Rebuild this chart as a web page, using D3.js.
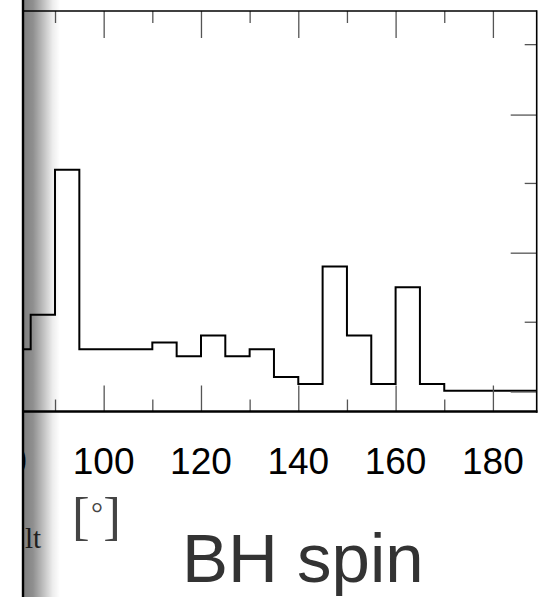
<!DOCTYPE html>
<html><head><meta charset="utf-8">
<script src="https://cdn.jsdelivr.net/npm/d3@7"></script>
<style>html,body{margin:0;padding:0;background:#fff}svg{display:block}</style>
</head><body>
<svg id="c" width="557" height="597"></svg>
<script>
// ---- data ----
const binEdges = [80,85,90,95,100,105,110,115,120,125,130,135,140,145,150,155,160,165,170,175,180,185,190];
const counts   = [9,14,35,9,9,9,10,8,11,8,9,5,4,21,11,4,18,4,3,3,3,3];
const xMajorTicks = [80,100,120,140,160,180];
const xMinorTicks = [90,110,130,150,170];
const xTickLabels = ["80","100","120","140","160","180"];
const yMajorTicks = [2.9,23,43];
const yMinorTicks = [13,33.1,53.2];
const unitLabel = ["[","°","]"];
const sideText = "lt";
const titleText = "BH spin";

// ---- layout ----
const W = 557, H = 597;
const svg = d3.select("#c");
const pTop = 11, pBottom = 411.5, pRight = 536.7;
const x = d3.scaleLinear().domain([70,189]).range([-42.3, pRight]);
const y = d3.scaleLinear().domain([0,58]).range([pBottom, pTop]);

const defs = svg.append("defs");
defs.append("clipPath").attr("id","vis").append("rect")
  .attr("x",22).attr("y",0).attr("width",W-22).attr("height",H);
defs.append("clipPath").attr("id","plot").append("rect")
  .attr("x",x.range()[0]).attr("y",pTop).attr("width",pRight-x.range()[0]).attr("height",pBottom-pTop);
const grad = defs.append("linearGradient").attr("id","shade").attr("x1","0").attr("x2","1").attr("y1","0").attr("y2","0");
[[0,0.50],[0.25,0.44],[0.55,0.24],[0.8,0.07],[1,0]].forEach(([o,a])=>{
  grad.append("stop").attr("offset",o).attr("stop-color","#000").attr("stop-opacity",a);
});

const g = svg.append("g").attr("clip-path","url(#vis)");

// step histogram
const pts = [[binEdges[0],0]];
counts.forEach((c,i)=>{ pts.push([binEdges[i],c]); });
pts.push([binEdges[binEdges.length-1],counts[counts.length-1]]);
pts.push([binEdges[binEdges.length-1],0]);
const line = d3.line().x(d=>x(d[0])).y(d=>y(d[1])).curve(d3.curveStepAfter);
g.append("path").attr("clip-path","url(#plot)").datum(pts)
  .attr("d",line).attr("fill","none").attr("stroke","#000").attr("stroke-width",2)
  .attr("stroke-linejoin","miter");

// ticks via d3 axes (inward)
function ticks(axisFn, scale, vals, size, transform){
  const a = axisFn(scale).tickValues(vals).tickSizeInner(-size).tickSizeOuter(0).tickFormat("");
  const gg = g.append("g").attr("transform",transform).call(a);
  gg.select(".domain").remove();
  gg.selectAll(".tick line").attr("stroke","#555").attr("stroke-width",1.3);
  return gg;
}
ticks(d3.axisBottom, x, xMajorTicks, 26, `translate(0,${pBottom})`);
ticks(d3.axisBottom, x, xMinorTicks, 12, `translate(0,${pBottom})`);
ticks(d3.axisTop, x, xMajorTicks, 27, `translate(0,${pTop})`);
ticks(d3.axisTop, x, xMinorTicks, 12, `translate(0,${pTop})`);
ticks(d3.axisRight, y, yMajorTicks, 26, `translate(${pRight},0)`);
ticks(d3.axisRight, y, yMinorTicks, 12, `translate(${pRight},0)`);

// frame
g.append("line").attr("x1",x.range()[0]).attr("x2",pRight).attr("y1",pTop).attr("y2",pTop).attr("stroke","#000").attr("stroke-width",1.6);
g.append("line").attr("x1",pRight).attr("x2",pRight).attr("y1",pTop-0.8).attr("y2",pBottom+1.2).attr("stroke","#000").attr("stroke-width",1.6);
g.append("line").attr("x1",x.range()[0]).attr("x2",pRight+0.8).attr("y1",pBottom).attr("y2",pBottom).attr("stroke","#000").attr("stroke-width",2.6);

// tick labels
g.selectAll("text.xl").data(xMajorTicks).enter().append("text")
  .attr("class","xl").attr("x",d=>x(d)).attr("y",473.5)
  .attr("text-anchor","middle").attr("font-family","Liberation Sans, Arial, sans-serif")
  .attr("font-size",37).attr("fill","#000").text((d,i)=>xTickLabels[i]);

// unit label
g.append("text").attr("x",72).attr("y",534).attr("font-family","Liberation Serif, serif")
  .attr("font-size",53).attr("fill","#444").text(unitLabel[0]);
g.append("text").attr("x",97).attr("y",523).attr("text-anchor","middle").attr("font-family","Liberation Serif, serif")
  .attr("font-size",30).attr("fill","#444").text(unitLabel[1]);
g.append("text").attr("x",121).attr("y",534).attr("text-anchor","end").attr("font-family","Liberation Serif, serif")
  .attr("font-size",53).attr("fill","#444").text(unitLabel[2]);

// side text
g.append("text").attr("x",25).attr("y",548).attr("font-family","Liberation Serif, serif")
  .attr("font-size",29).attr("fill","#333").text(sideText);

// title
g.append("text").attr("x",182).attr("y",582).attr("font-family","Liberation Sans, Arial, sans-serif")
  .attr("font-size",69).attr("fill","#333").text(titleText);

// page edge + shadow
svg.append("rect").attr("x",0).attr("y",0).attr("width",22).attr("height",H).attr("fill","#fff");
svg.append("rect").attr("x",24).attr("y",0).attr("width",36).attr("height",H).attr("fill","url(#shade)");
svg.append("rect").attr("x",21.8).attr("y",0).attr("width",2.4).attr("height",H).attr("fill","#000");
</script>
</body></html>
